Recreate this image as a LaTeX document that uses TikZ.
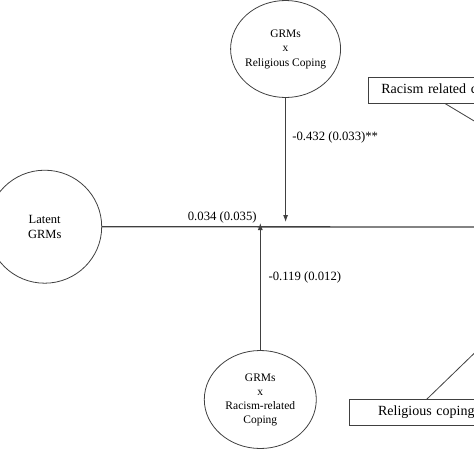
\documentclass[tikz,border=0pt]{standalone}
\usepackage{fontspec}
\setmainfont{Liberation Serif}
\usetikzlibrary{shapes.geometric,arrows.meta}
\definecolor{linegray}{HTML}{404040}
\begin{document}
\begin{tikzpicture}[x=1pt,y=1pt]
\useasboundingbox (0,0) rectangle (474,-474);
\clip (0,0) rectangle (474,-474);

\begin{scope}[every node/.style={ellipse,draw=linegray,line width=0.8pt,fill=white,inner xsep=-4pt,inner ysep=0pt,align=center}]
    \node[minimum width=114pt,minimum height=113pt,font=\fontsize{12.5}{15}\selectfont] (lat) at (44.7,-226.7) {Latent\\GRMs};
    \node[minimum width=110pt,minimum height=97pt,font=\fontsize{11.5}{14.5}\selectfont] (grc) at (285.6,-49) {GRMs\\x\\Religious Coping};
    \node[minimum width=112pt,minimum height=98pt,font=\fontsize{11.5}{14}\selectfont] (grr) at (260.3,-399.5) {GRMs\\x\\Racism-related\\Coping};
\end{scope}

\coordinate (out) at (480,-227);
\coordinate (tipA) at (285.6,-222);
\coordinate (tipB) at (260.3,-223);

\begin{scope}[>={Latex[length=7pt,width=5pt]},every node/.style={font=\fontsize{12.7}{15}\selectfont},every edge/.style={draw=linegray,line width=0.9pt}]
    \path (lat) edge[line width=1.3pt] node[pos=0.318,above] {0.034 (0.035)} (out);
    \path [->] (grc) edge node[pos=0.32,right,xshift=3pt] {-0.432 (0.033)**} (tipA);
    \path [->] (grr) edge node[pos=0.57,right,xshift=4.5pt] {-0.119 (0.012)} (tipB);
\end{scope}

\begin{scope}[every node/.style={rectangle,draw=linegray,line width=0.8pt,fill=white,anchor=north west,minimum height=25.4pt,text width=150pt,align=left,font=\fontsize{14}{16}\selectfont}]
    \node[inner xsep=12.7pt] (rac) at (368.3,-77.3) {Racism related coping};
    \node[inner xsep=28.4pt] (rel) at (349.3,-399.3) {Religious coping};
\end{scope}

\coordinate (racT) at (500,-136.5);
\coordinate (relT) at (490,-338);
\draw[linegray,line width=0.8pt] ([xshift=76.7pt]rac.south west) -- (racT);
\draw[linegray,line width=0.8pt] ([xshift=77.4pt]rel.north west) -- (relT);
\end{tikzpicture}
\end{document}
